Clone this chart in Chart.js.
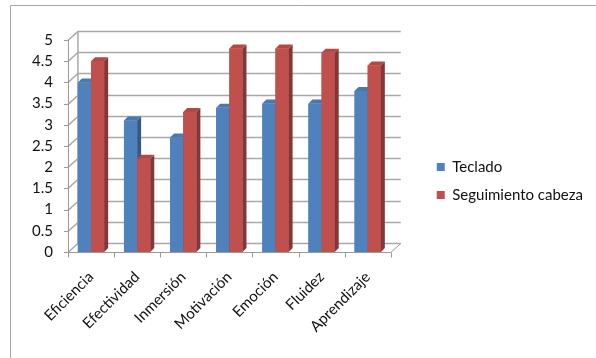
<!DOCTYPE html>
<html>
<head>
<meta charset="utf-8">
<script src="https://cdn.jsdelivr.net/npm/chart.js@4.4.1/dist/chart.umd.min.js"></script>
<style>
html,body{margin:0;padding:0;background:#fff;}
#wrap{width:596px;height:358px;position:relative;}
</style>
</head>
<body>
<div id="wrap"><canvas id="c" width="596" height="358"></canvas></div>
<script>
const categories = ["Eficiencia","Efectividad","Inmersión","Motivación","Emoción","Fluidez","Aprendizaje"];
const seriesNames = ["Teclado","Seguimiento cabeza"];
const teclado = [4.0, 3.1, 2.7, 3.4, 3.5, 3.5, 3.8];
const seguimiento = [4.5, 2.2, 3.3, 4.8, 4.8, 4.7, 4.4];
const yMin = 0, yMax = 5, yStep = 0.5;

const FONT = "Lato, 'Open Sans', sans-serif";
const WALL_DX = 10, WALL_DY = 9;   // depth of the back wall
const BAR_DX = 4, BAR_DY = 4;      // depth of each bar
const LEGEND_SHIFT = -8;

function shade(hex, f){
  const n = parseInt(hex.slice(1),16);
  let r=(n>>16)&255,g=(n>>8)&255,b=n&255;
  r=Math.round(r*f);g=Math.round(g*f);b=Math.round(b*f);
  return `rgb(${r},${g},${b})`;
}
const faceColors = ["#4f81bd","#c0504d"];

const frame3d = {
  id:'frame3d',
  afterLayout(chart){
    const lg = chart.legend;
    if (lg){ lg.top += LEGEND_SHIFT; lg.bottom += LEGEND_SHIFT; }
  },
  beforeDraw(chart){
    const ctx = chart.ctx;
    ctx.save();
    ctx.strokeStyle = '#a6a6a6';
    ctx.lineWidth = 1;
    ctx.beginPath();
    ctx.moveTo(10.5, 358); ctx.lineTo(10.5, 5.5); ctx.lineTo(596, 5.5);
    ctx.stroke();
    ctx.restore();
  },
  beforeDatasetsDraw(chart){
    const ctx = chart.ctx, x = chart.scales.x, y = chart.scales.y;
    const L = x.left, R = x.right;
    ctx.save();
    ctx.strokeStyle = '#a8a8a8';
    ctx.lineWidth = 1.5;
    for (let v = yMin; v <= yMax + 1e-9; v += yStep){
      const py = Math.round(y.getPixelForValue(v)) + 0.5;
      ctx.beginPath();
      ctx.moveTo(L, py);
      ctx.lineTo(L + WALL_DX, py - WALL_DY);
      ctx.lineTo(R + WALL_DX, py - WALL_DY);
      ctx.stroke();
    }
    ctx.beginPath();
    ctx.moveTo(L + WALL_DX, y.getPixelForValue(yMax) - WALL_DY);
    ctx.lineTo(L + WALL_DX, y.getPixelForValue(yMin) - WALL_DY);
    ctx.stroke();
    ctx.lineWidth = 1;
    ctx.strokeStyle = '#9a9a9a';
    ctx.beginPath();
    ctx.moveTo(L + 0.5, y.getPixelForValue(yMax));
    ctx.lineTo(L + 0.5, y.getPixelForValue(yMin));
    ctx.stroke();
    for (let v = yMin; v <= yMax + 1e-9; v += yStep){
      const py = Math.round(y.getPixelForValue(v)) + 0.5;
      ctx.beginPath(); ctx.moveTo(L - 4, py); ctx.lineTo(L, py); ctx.stroke();
    }
    const by = Math.round(y.getPixelForValue(yMin)) + 0.5;
    ctx.beginPath();
    ctx.moveTo(L, by); ctx.lineTo(R, by); ctx.lineTo(R + WALL_DX, by - WALL_DY);
    ctx.stroke();
    const n = categories.length, w = (R - L) / n;
    for (let i = 0; i <= n; i++){
      const px = Math.round(L + i * w) + 0.5;
      ctx.beginPath(); ctx.moveTo(px, by); ctx.lineTo(px, by + 5); ctx.stroke();
    }
    ctx.restore();
  },
  afterDatasetsDraw(chart){
    const ctx = chart.ctx;
    const metas = [chart.getDatasetMeta(0), chart.getDatasetMeta(1)];
    ctx.save();
    for (let i = 0; i < categories.length; i++){
      metas.forEach((meta, d) => {
        const el = meta.data[i];
        const col = faceColors[d];
        const l = el.x - el.width/2, r = el.x + el.width/2, t = el.y, b = el.base;
        ctx.fillStyle = col;
        ctx.fillRect(l, t, r - l, b - t);
        ctx.fillStyle = shade(col, 0.68);
        ctx.beginPath();
        ctx.moveTo(r, t); ctx.lineTo(r + BAR_DX, t - BAR_DY);
        ctx.lineTo(r + BAR_DX, b - BAR_DY); ctx.lineTo(r, b); ctx.closePath();
        ctx.fill();
        ctx.fillStyle = shade(col, 0.92);
        ctx.beginPath();
        ctx.moveTo(l, t); ctx.lineTo(l + BAR_DX, t - BAR_DY);
        ctx.lineTo(r + BAR_DX, t - BAR_DY); ctx.lineTo(r, t); ctx.closePath();
        ctx.fill();
      });
    }
    ctx.restore();
  }
};

new Chart(document.getElementById('c'), {
  type: 'bar',
  data: {
    labels: categories,
    datasets: [
      {label: seriesNames[0], data: teclado, backgroundColor: faceColors[0], barPercentage: 1, categoryPercentage: 0.57},
      {label: seriesNames[1], data: seguimiento, backgroundColor: faceColors[1], barPercentage: 1, categoryPercentage: 0.57}
    ]
  },
  options: {
    responsive: false,
    animation: false,
    layout: {padding: {left: 17, top: 40, right: 3, bottom: 20}},
    plugins: {
      legend: {
        position: 'right',
        maxWidth: 220,
        labels: {boxWidth: 8, boxHeight: 8, padding: 13, color: '#111', font: {family: FONT, size: 15}}
      },
      tooltip: {enabled: false}
    },
    scales: {
      x: {
        grid: {display: false, drawTicks: false},
        border: {display: false},
        ticks: {maxRotation: 45, minRotation: 45, autoSkip: false, padding: 16, color: '#111', font: {family: FONT, size: 15}},
        afterFit(s){ s.height = 86; s.paddingLeft = 0; s.paddingRight = 0; }
      },
      y: {
        min: yMin, max: yMax,
        grid: {display: false, drawTicks: false},
        border: {display: false},
        ticks: {stepSize: yStep, autoSkip: false, padding: 15, color: '#111', font: {family: FONT, size: 15},
          callback: v => String(Math.round(v * 10) / 10)}
      },
      gap: {
        position: 'right', display: true,
        grid: {display: false}, border: {display: false},
        ticks: {display: false},
        afterFit(s){ s.width = 33; }
      }
    }
  },
  plugins: [frame3d]
});
</script>
</body>
</html>
